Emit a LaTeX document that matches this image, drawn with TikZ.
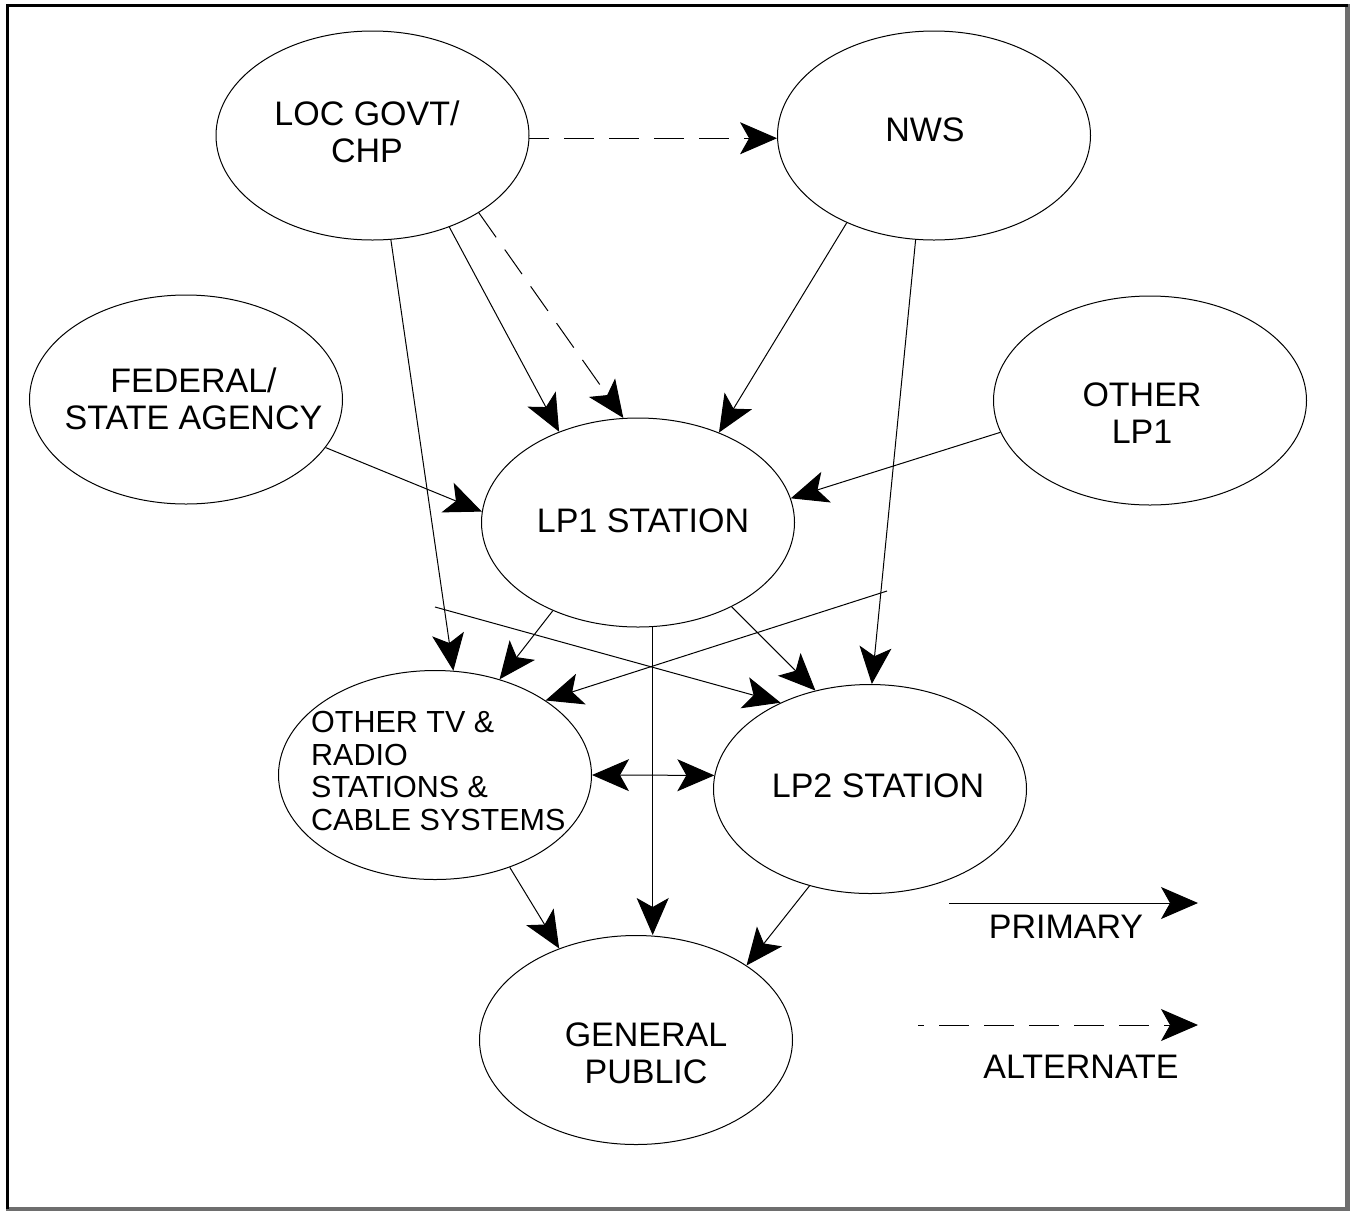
\documentclass[tikz,border=0pt]{standalone}
\usepackage{fontspec}
\setmainfont{Liberation Sans}
\usetikzlibrary{shapes.geometric,arrows.meta}
\definecolor{edgegray}{RGB}{110,110,110}
\begin{document}
\begin{tikzpicture}[x=1pt,y=-1pt,
  ell/.style={draw, ellipse, minimum width=313pt, minimum height=209pt, inner sep=0pt, line width=1pt},
  lbl/.style={font=\fontsize{34}{37}\selectfont, align=center, inner sep=0pt},
  conn/.style={line width=1pt, -{Stealth[length=37pt,width=32pt,inset=9pt]}},
  both/.style={line width=1pt, {Stealth[length=37pt,width=32pt,inset=9pt]}-{Stealth[length=37pt,width=32pt,inset=9pt]}},
  alt/.style={conn, dash pattern=on 30pt off 15pt},
  ]
\useasboundingbox (0,0) rectangle (1352,1211);
% frame
\draw[edgegray, line width=5pt] (1347.5,3.8) -- (1347.5,1209);
\draw[edgegray, line width=4pt] (6,1209) -- (1350,1209);
\draw[line width=3pt] (7.5,1209) -- (7.5,5.3) -- (1347.5,5.3);

% ellipses
\node[ell] (loc) at (372.5,135.5) {};
\node[ell] (nws) at (934,135.5) {};
\node[ell] (fed) at (186,399.5) {};
\node[ell] (olp) at (1150,400.5) {};
\node[ell] (lp1) at (638,522.5) {};
\node[ell] (tv)  at (435,775) {};
\node[ell] (lp2) at (870,789) {};
\node[ell] (gp)  at (636,1040) {};

% texts
\node[lbl] (loct) at (367,131.5) {LOC GOVT/\\CHP};
\node[lbl] (nwst) at (925,130) {NWS};
\node[lbl] (fedt) at (193.5,398.5) {FEDERAL/\\STATE AGENCY};
\node[lbl] (olpt) at (1142,413.5) {OTHER\\LP1};
\node[lbl] (lp1t) at (643,521) {LP1 STATION};
\node[lbl] (lp2t) at (878,786) {LP2 STATION};
\node[lbl] (gpt)  at (646,1053.5) {GENERAL\\PUBLIC};
\node[lbl, font=\fontsize{30.5}{32.7}\selectfont, align=left, anchor=west] (tvt) at (311,771)
  {OTHER TV \&\\RADIO\\STATIONS \&\\CABLE SYSTEMS};

% connectors
\draw[alt, dash phase=10pt] (loc.-1) -- (nws.181);
\draw[conn] (loc.-50.9) -- (lp1.131.6);
\draw[alt] (loc.-36.4) -- (lp1.98.4);
\draw[conn] (loc.-80.4) -- (tv.80.7);
\draw[conn] (nws.225.8) -- (lp1.48.6);
\draw[conn] (nws.260.2) -- (lp2.89.5);
\draw[conn] (fed.-19.8) -- (lp1.176);
\draw[conn] (olp.192.2) -- (lp1.9.4);
\draw[conn] (lp1.226.7) -- (tv.56);
\draw[conn] (lp1.-42.1) -- (lp2.119.8);
\draw[conn] (lp1.-82) -- (lp1.-82 |- gp.north);
\coordinate (f1) at (435,607);
\coordinate (f2) at (887,591);
\draw[conn] (f1) -- (lp2.136.6);
\draw[conn] (f2) -- (tv.34.3);
\draw[both] (tv.-0.7) -- (lp2.175.6);
\draw[conn] (tv.-51) -- (gp.130.2);
\draw[conn] (lp2.238.1) -- (gp.34);

% legend
\coordinate (pa) at (949,903);
\coordinate (pb) at (1198,903);
\draw[conn] (pa) -- (pb);
\node[lbl] (prim) at (1066,927) {PRIMARY};
\coordinate (qa) at (918,1025);
\coordinate (qb) at (1198,1025);
\draw[alt, dash phase=24pt] (qa) -- (qb);
\node[lbl] (altl) at (1081,1067) {ALTERNATE};
\end{tikzpicture}
\end{document}
